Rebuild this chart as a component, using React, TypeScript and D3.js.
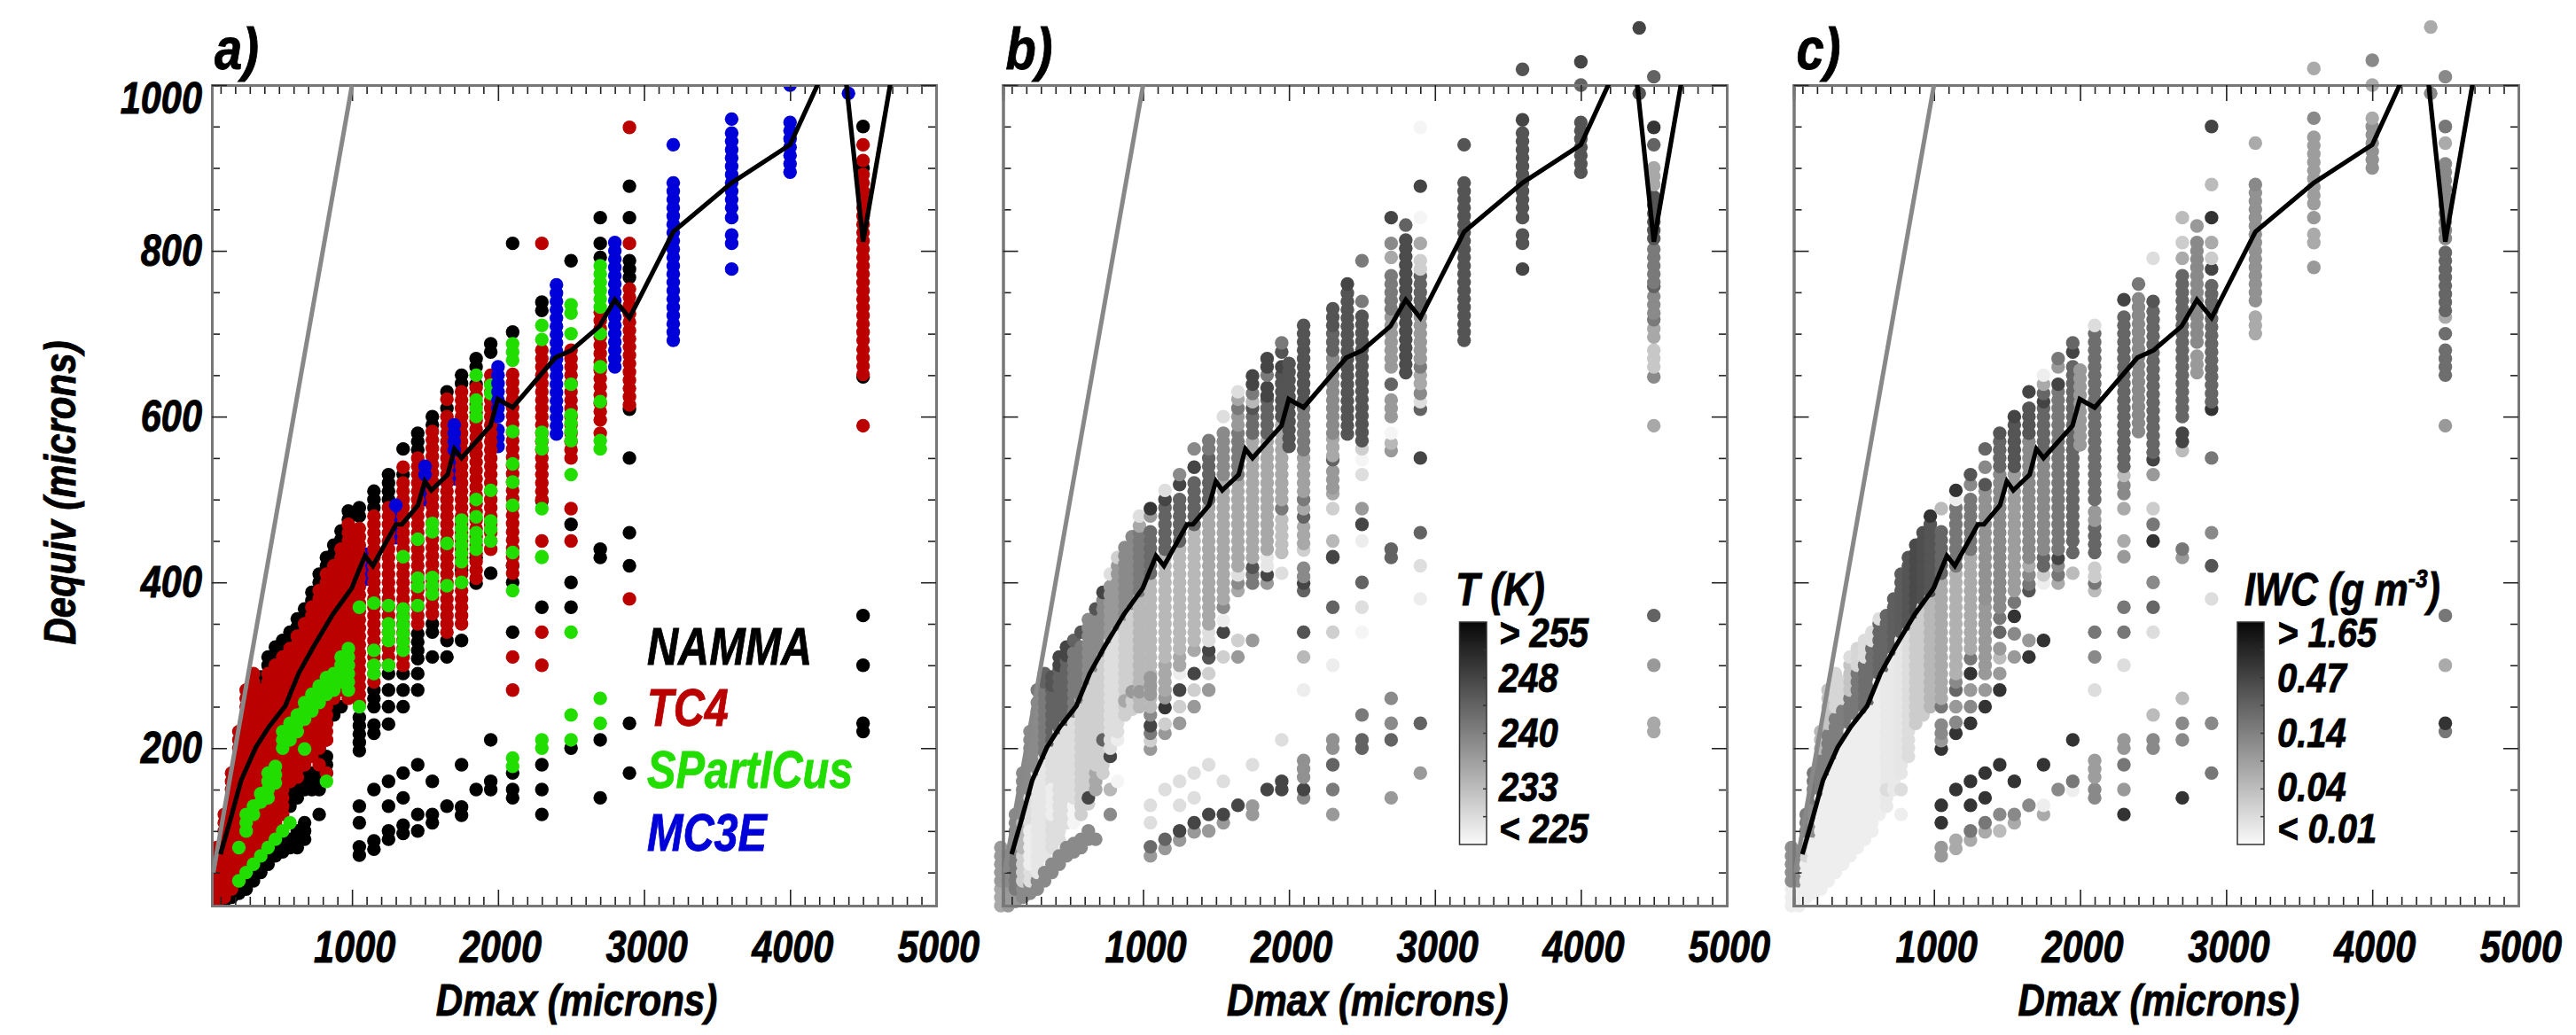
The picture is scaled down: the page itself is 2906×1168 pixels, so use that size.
import React, { useEffect, useRef } from 'react'
import * as d3 from 'd3'

type Row = number[]

// [Dmax, lowest Dequiv, highest Dequiv] of one run of 10 micron bins
const nammaRows: Row[] = [
  [125,15,20],[175,20,25],[225,25,30],[275,30,40],[325,40,50],[375,50,60],[425,60,70],[475,70,80],[525,75,85],[575,80,90],
  [625,80,100],[675,90,110],[575,130,150],[625,140,150],[675,150,170],[725,150,170],[775,120,120],[775,150,170],[775,190,230],
  [825,170,190],[825,230,230],[875,240,250],[925,250,250],
  [375,276,286],[425,300,310],[475,312,322],[525,320,330],[575,330,340],[625,346,356],[675,358,368],[725,378,388],[775,400,410],
  [825,420,430],[875,435,445],[925,452,462],[975,476,486],
  [1050,197,240],[1050,480,490],[1150,218,229],[1150,250,270],[1150,490,510],[1250,229,229],[1250,250,250],[1250,270,270],[1250,290,290],[1250,500,530],
  [1350,250,250],[1350,270,270],[1350,290,290],[1350,530,530],[1350,561,561],[1450,270,270],[1450,290,290],[1450,308,343],[1450,560,580],
  [1550,310,310],[1550,340,358],[1550,590,600],[1650,310,310],[1650,330,330],[1650,610,610],[1650,630,630],[1750,330,330],[1750,415,420],[1750,640,650],
  [1850,430,430],[1850,399,399],[1850,639,639],[1850,660,670],[1950,411,411],[1950,678,689],
  [1050,130,130],[1050,110,110],[1050,71,81],[1150,150,150],[1150,78,90],[1250,160,160],[1250,130,130],[1250,90,105],[1350,170,170],[1350,140,140],[1350,97,110],
  [1450,180,180],[1450,120,120],[1450,100,100],[1550,160,160],[1550,110,120],[1650,130,130],[1750,180,180],[1750,119,130],[1850,150,150],[1950,210,210],[1950,150,160],
  [2100,702,709],[2100,809,809],[2100,420,420],[2100,400,400],[2100,340,340],[2100,170,170],[2100,140,150],
  [2300,728,739],[2300,498,498],[2300,370,370],[2300,180,180],[2300,150,150],[2300,120,120],
  [2500,788,788],[2500,470,470],[2500,400,400],[2500,370,370],[2500,200,200],
  [2700,840,840],[2700,809,809],[2700,792,792],[2700,430,446],[2700,210,210],[2700,140,140],
  [2900,878,878],[2900,840,840],[2900,768,790],[2900,609,609],[2900,550,550],[2900,460,460],[2900,420,420],[2900,230,230],[2900,170,170],
  [4500,950,950],[4500,900,900],[4500,648,648],[4500,360,360],[4500,300,300],[4500,220,230],
]

const tc4Rows: Row[] = [
  [25,10,40],[75,10,80],[125,20,125],[175,30,175],[225,40,225],[275,60,270],[325,70,293],[375,80,270],[425,90,295],[475,100,305],
  [525,120,315],[575,160,325],[625,165,340],[675,180,350],[725,190,370],[775,200,390],[825,210,410],[875,260,425],[925,270,445],[975,260,470],
  [1050,255,470],[1150,280,480],[1250,300,490],[1350,300,528],[1350,539,539],[1450,350,553],[1550,362,585],[1650,340,600],[1650,621,621],
  [1750,350,635],[1850,405,640],[1950,440,653],[2100,411,653],[2300,500,682],[2300,809,809],[2300,450,450],[2300,340,340],[2300,300,300],
  [2500,550,689],[2500,489,489],[2500,450,450],[2700,596,735],[2700,580,580],[2900,614,760],[2900,809,809],[2900,949,949],[2900,380,380],
  [2100,310,310],[2100,270,270],[4500,692,897],[4500,651,684],[4500,909,909],[4500,928,928],[4500,589,589],
  [775,180,180],[825,170,170],[825,210,210],
]

const spartRows: Row[] = [
  [225,40,40],[275,50,50],[325,60,60],[375,70,70],[425,80,80],[475,90,90],[525,100,100],[575,110,110],
  [225,80,80],[275,100,120],[325,120,135],[375,135,150],[425,140,175],[475,158,186],[675,199,199],[825,160,160],
  [525,200,220],[575,210,230],[625,220,240],[675,235,255],[725,245,265],[775,255,280],[825,265,290],[875,270,295],[925,280,310],[975,270,320],
  [1050,250,250],[1050,370,370],[1150,290,300],[1150,318,318],[1150,375,375],[1250,300,300],[1250,330,350],[1250,372,372],[1350,318,370],[1350,431,431],
  [1450,372,372],[1450,452,452],[1450,395,410],[1550,386,411],[1550,461,471],[1650,396,396],[1650,447,447],[1750,400,400],[1750,425,482],
  [1850,650,650],[1850,600,625],[1850,500,500],[1850,440,464],[1850,479,479],[1950,628,646],[1950,511,511],[1950,464,482],[1950,450,450],
  [2100,668,689],[2100,582,582],[2100,543,543],[2100,521,521],[2100,493,493],[2100,436,443],[2100,390,390],[2100,178,190],
  [2300,710,710],[2300,693,693],[2300,561,589],[2300,489,489],[2300,431,431],[2300,430,430],[2300,200,210],
  [2500,725,741],[2500,700,700],[2500,639,639],[2500,582,607],[2500,571,571],[2500,530,530],[2500,340,340],[2500,240,240],[2500,210,210],
  [2700,732,785],[2700,700,700],[2700,660,660],[2700,618,618],[2700,561,571],[2700,260,260],[2700,230,230],
]

// the lower MC3E bins sit behind the TC4 columns, the upper ones in front
const mc3eBehindRows: Row[] = [
  [1100,404,443],[1300,454,493],[1500,500,528],[1700,525,555],[2000,564,590],
]

const mc3eRows: Row[] = [
  [1300,493,493],[1500,530,547],[1700,560,593],[2000,600,664],[2400,579,760],[2800,660,815],
  [3200,928,928],[3200,692,885],[3600,1020,1020],[3600,959,959],[3600,852,942],[3600,840,840],[3600,809,819],[3600,778,778],
  [4000,1000,1000],[4000,895,958],[4400,990,990],
]

// [Dmax, lowest Dequiv, highest Dequiv, temperature in K]
const tempRows: Row[] = [
  [25,10,30,235],[25,40,80,237],[75,10,30,237],[75,40,75,239],[125,15,25,237],[125,30,70,241],[125,80,125,239],
  [175,20,30,239],[175,40,70,230],[175,80,115,233],[175,120,175,239],
  [225,25,35,239],[225,40,140,228],[225,60,100,226],[225,150,225,239],
  [275,30,40,239],[275,50,170,227],[275,175,260,239],[275,270,270,241],
  [325,40,50,239],[325,70,190,227],[325,195,270,241],[325,280,293,244],
  [375,50,60,239],[375,80,205,228],[375,120,150,226],[375,210,270,244],[375,276,286,246],
  [425,60,70,239],[425,90,220,228],[425,225,295,244],[425,300,310,248],
  [475,70,80,239],[475,110,230,228],[475,235,305,244],[475,312,322,248],
  [525,75,85,239],[525,110,130,225],[525,140,240,228],[525,245,320,241],[525,330,330,244],
  [575,80,90,239],[575,120,260,230],[575,262,330,241],[575,340,340,246],
  [625,90,100,239],[625,133,280,230],[625,140,140,248],[625,285,356,239],
  [675,90,90,239],[675,150,170,235],[675,180,295,230],[675,300,360,239],[675,368,368,246],
  [725,170,310,230],[725,210,218,244],[725,318,380,239],[725,388,388,248],
  [775,120,120,239],[775,150,150,233],[775,190,190,248],[775,200,330,228],[775,335,400,237],[775,410,410,228],
  [825,160,160,225],[825,210,210,226],[825,220,345,228],[825,350,420,237],[825,430,430,230],
  [875,240,355,230],[875,257,257,235],[875,362,445,239],
  [925,247,370,230],[925,268,268,237],[925,375,462,239],
  [975,250,385,233],[975,268,268,237],[975,390,460,241],[975,468,468,235],[975,480,480,228],
  [1050,70,70,237],[1050,81,81,243],[1050,110,110,228],[1050,131,131,228],[1050,199,199,237],[1050,209,209,230],[1050,218,218,241],[1050,227,227,248],[1050,240,240,239],
  [1050,250,400,233],[1050,265,290,237],[1050,411,470,243],[1050,480,480,237],[1050,489,489,250],
  [1150,79,79,237],[1150,90,90,244],[1150,150,150,228],[1150,218,218,237],[1150,229,229,230],[1150,249,249,250],[1150,261,261,237],[1150,270,300,235],[1150,310,430,233],[1150,440,490,244],[1150,500,500,248],[1150,511,511,228],
  [1250,89,89,237],[1250,100,100,248],[1250,131,131,228],[1250,160,160,228],[1250,230,230,237],[1250,250,250,230],[1250,270,270,248],[1250,290,290,226],[1250,300,310,235],[1250,320,440,233],[1250,450,508,244],[1250,518,518,248],[1250,530,530,239],
  [1350,99,99,237],[1350,110,110,248],[1350,140,140,228],[1350,170,170,228],[1350,250,250,237],[1350,270,270,230],[1350,290,290,248],[1350,318,318,235],[1350,330,460,233],[1350,470,528,244],[1350,539,539,248],[1350,561,561,239],
  [1450,100,100,237],[1450,120,120,248],[1450,180,180,228],[1450,270,270,237],[1450,290,290,230],[1450,309,309,246],[1450,318,318,248],[1450,330,340,228],[1450,350,490,235],[1450,500,553,244],[1450,561,580,241],
  [1550,110,110,237],[1550,120,120,248],[1550,160,160,228],[1550,310,310,230],[1550,340,340,248],[1550,354,354,226],[1550,370,370,239],[1550,380,520,235],[1550,530,589,239],[1550,600,600,228],
  [1650,131,131,248],[1650,310,310,237],[1650,330,330,230],[1650,390,390,235],[1650,399,399,239],[1650,409,409,228],[1650,420,525,235],[1650,530,580,241],[1650,590,600,237],[1650,610,610,241],[1650,621,621,235],[1650,630,630,228],
  [1750,120,131,237],[1750,180,180,228],[1750,330,330,237],[1750,399,409,241],[1750,418,418,246],[1750,430,570,235],[1750,580,600,243],[1750,610,610,246],[1750,618,618,233],[1750,628,628,241],[1750,639,650,248],
  [1850,150,150,248],[1850,399,399,237],[1850,409,409,248],[1850,420,430,227],[1850,440,570,235],[1850,580,620,244],[1850,625,640,248],[1850,650,650,241],[1850,660,670,248],
  [1950,150,161,248],[1950,210,210,228],[1950,411,411,228],[1950,436,480,232],[1950,489,489,241],[1950,500,590,235],[1950,600,650,246],[1950,660,668,248],[1950,678,678,246],[1950,689,689,241],
  [2000,564,664,246],
  [2100,140,140,239],[2100,150,150,248],[2100,165,190,238],[2100,270,270,226],[2100,310,310,233],[2100,340,340,246],[2100,390,390,244],[2100,399,399,248],[2100,407,421,239],[2100,439,439,230],[2100,447,471,235],[2100,479,479,244],[2100,489,489,235],[2100,500,500,241],[2100,510,553,236],[2100,560,610,241],[2100,620,716,246],
  [2300,120,120,237],[2300,150,150,241],[2300,180,180,244],[2300,200,210,238],[2300,300,300,226],[2300,340,340,230],[2300,370,370,244],[2300,430,430,246],[2300,450,450,233],[2300,431,431,248],[2300,489,497,230],[2300,507,507,235],[2300,514,539,237],[2300,548,548,244],[2300,553,575,235],[2300,580,671,239],[2300,680,700,244],[2300,710,739,246],
  [2400,579,750,246],[2400,760,760,248],
  [2500,200,210,244],[2500,240,240,241],[2500,340,340,225],[2500,370,370,228],[2500,400,400,244],[2500,450,450,226],[2500,470,470,248],[2500,489,489,237],[2500,530,530,228],[2500,548,548,225],[2500,561,561,230],[2500,571,728,246],[2500,739,739,241],[2500,788,788,241],
  [2700,140,140,237],[2700,210,210,244],[2700,230,230,239],[2700,260,260,239],[2700,430,446,244],[2700,559,559,237],[2700,568,568,233],[2700,580,580,225],[2700,600,628,237],[2700,639,639,244],[2700,660,721,237],[2700,730,778,241],[2700,792,792,235],[2700,809,809,239],[2700,840,840,248],
  [2800,653,815,247],[2800,831,831,244],
  [2900,170,170,237],[2900,230,230,244],[2900,380,380,226],[2900,420,420,228],[2900,460,460,244],[2900,550,550,248],[2900,609,609,244],[2900,618,618,228],[2900,628,628,239],[2900,640,650,235],[2900,660,660,241],[2900,670,721,237],[2900,730,771,244],[2900,778,792,230],[2900,809,809,235],[2900,840,840,225],[2900,878,878,248],[2900,949,949,225],
  [3200,692,885,246],[3200,928,928,246],
  [3600,778,778,248],[3600,809,819,246],[3600,840,840,246],[3600,852,942,246],[3600,958,958,248],[3600,1019,1019,246],
  [4000,895,960,246],[4000,1000,1000,244],[4000,1028,1028,248],
  [4400,990,990,246],[4400,1069,1069,248],
  [4500,220,230,235],[4500,300,300,237],[4500,360,360,244],[4500,589,589,235],[4500,648,648,239],[4500,660,680,231],[4500,696,708,235],[4500,717,717,241],[4500,725,750,239],[4500,757,757,244],[4500,762,807,241],[4500,815,872,246],[4500,880,909,235],[4500,928,928,244],[4500,949,949,250],[4500,1010,1010,244],
]

// [Dmax, lowest Dequiv, highest Dequiv, ice water content in g m-3]
const iwcRows: Row[] = [
  [25,10,30,0.0117],[25,40,80,0.1],[75,10,30,0.0117],[75,40,75,0.1],[125,20,60,0.0117],[125,70,90,0.02],[125,100,125,0.14],
  [175,25,90,0.0117],[175,100,130,0.1],[175,140,175,0.16],[225,30,140,0.0117],[225,150,190,0.14],[225,200,225,0.04],
  [275,40,165,0.0117],[275,175,220,0.14],[275,230,270,0.03],[325,50,185,0.0117],[325,195,240,0.14],[325,250,293,0.02],
  [375,60,205,0.0117],[375,215,250,0.14],[375,260,286,0.02],[425,70,220,0.0117],[425,230,260,0.16],[425,270,300,0.03],[425,310,310,0.017],
  [475,80,230,0.0117],[475,240,290,0.16],[475,300,322,0.02],[525,90,240,0.0117],[525,250,300,0.2],[525,310,330,0.017],
  [575,100,255,0.0117],[575,260,320,0.2],[575,330,340,0.017],[625,120,280,0.0117],[625,290,350,0.24],[625,356,356,0.017],
  [675,130,295,0.013],[675,150,150,0.017],[675,300,368,0.24],[725,150,310,0.013],[725,320,388,0.28],
  [775,120,120,0.0117],[775,150,150,0.017],[775,170,330,0.014],[775,340,410,0.3],[825,190,345,0.017],[825,350,430,0.35],
  [875,230,355,0.025],[875,365,445,0.45],[925,240,370,0.025],[925,380,462,0.4],[975,250,385,0.04],[975,390,470,0.35],[975,480,480,0.74],
  [1050,70,81,0.077],[1050,110,110,0.74],[1050,131,131,0.74],[1050,199,199,0.74],[1050,209,209,0.077],[1050,218,230,0.11],[1050,250,250,0.165],[1050,260,400,0.053],[1050,411,470,0.24],[1050,489,489,0.036],
  [1150,79,90,0.053],[1150,150,150,0.74],[1150,218,218,0.74],[1150,231,231,0.11],[1150,250,250,0.077],[1150,270,270,0.24],[1150,280,280,0.11],[1150,290,410,0.045],[1150,420,490,0.165],[1150,500,500,0.0117],[1150,511,511,0.74],
  [1250,89,89,0.053],[1250,100,100,0.165],[1250,131,131,0.74],[1250,160,160,0.74],[1250,230,230,0.74],[1250,250,250,0.11],[1250,270,270,0.077],[1250,290,290,0.74],[1250,308,308,0.165],[1250,320,430,0.053],[1250,440,508,0.165],[1250,518,518,0.11],[1250,530,530,0.35],
  [1350,99,99,0.053],[1350,110,110,0.165],[1350,140,140,0.74],[1350,170,170,0.74],[1350,250,250,0.74],[1350,270,270,0.077],[1350,290,290,0.077],[1350,300,370,0.077],[1350,380,510,0.09],[1350,518,518,0.35],[1350,539,539,0.11],[1350,561,561,0.24],
  [1450,100,100,0.036],[1450,120,120,0.11],[1450,180,180,0.74],[1450,270,270,0.74],[1450,290,290,0.077],[1450,309,309,0.036],[1450,320,320,0.077],[1450,340,340,0.24],[1450,357,357,0.165],[1450,370,530,0.11],[1450,540,570,0.24],[1450,580,580,0.35],
  [1550,110,110,0.053],[1550,120,120,0.11],[1550,160,160,0.74],[1550,310,310,0.077],[1550,338,338,0.11],[1550,359,359,0.74],[1550,376,376,0.165],[1550,390,530,0.07],[1550,540,590,0.35],[1550,600,600,0.51],
  [1650,131,131,0.11],[1650,310,310,0.74],[1650,330,330,0.077],[1650,390,390,0.35],[1650,398,398,0.165],[1650,409,409,0.11],[1650,420,420,0.053],[1650,430,570,0.11],[1650,580,612,0.35],[1650,630,630,0.51],
  [1750,120,120,0.053],[1750,131,131,0.0117],[1750,180,180,0.74],[1750,330,330,0.74],[1750,399,399,0.0117],[1750,409,409,0.025],[1750,420,430,0.24],[1750,440,550,0.11],[1750,560,610,0.24],[1750,618,618,0.51],[1750,628,628,0.24],[1750,639,639,0.053],[1750,650,650,0.0117],
  [1850,150,150,0.11],[1850,399,399,0.053],[1850,409,409,0.165],[1850,420,420,0.11],[1850,429,429,0.51],[1850,440,630,0.165],[1850,639,646,0.51],[1850,660,660,0.077],[1850,670,670,0.165],
  [1950,149,149,0.0117],[1950,160,160,0.165],[1950,210,210,0.74],[1950,411,411,0.036],[1950,436,436,0.24],[1950,450,667,0.24],[1950,678,678,0.51],[1950,689,689,0.24],
  [2000,566,660,0.077],
  [2100,140,150,0.11],[2100,165,190,0.07],[2100,270,270,0.017],[2100,310,310,0.11],[2100,340,340,0.165],[2100,390,390,0.036],[2100,399,399,0.165],[2100,407,420,0.025],[2100,436,471,0.24],[2100,475,490,0.077],[2100,500,700,0.2],[2100,710,710,0.017],
  [2300,120,120,0.74],[2300,150,150,0.077],[2300,180,180,0.165],[2300,200,210,0.08],[2300,300,300,0.017],[2300,340,340,0.165],[2300,370,370,0.165],[2300,431,431,0.077],[2300,450,450,0.053],[2300,489,497,0.053],[2300,507,518,0.11],[2300,529,529,0.036],[2300,540,728,0.24],[2300,741,741,0.51],
  [2400,582,750,0.11],[2400,760,760,0.165],
  [2500,200,210,0.11],[2500,240,240,0.036],[2500,340,340,0.017],[2500,370,370,0.24],[2500,400,400,0.11],[2500,450,450,0.74],[2500,470,470,0.165],[2500,489,489,0.025],[2500,530,530,0.077],[2500,548,548,0.51],[2500,557,728,0.24],[2500,739,739,0.35],[2500,791,791,0.017],
  [2700,140,140,0.74],[2700,210,210,0.11],[2700,230,230,0.11],[2700,260,260,0.036],[2700,430,430,0.077],[2700,440,440,0.165],[2700,559,559,0.036],[2700,570,580,0.51],[2700,600,778,0.24],[2700,791,791,0.053],[2700,810,810,0.025],[2700,840,840,0.036],
  [2800,653,680,0.077],[2800,690,810,0.11],[2800,830,830,0.077],
  [2900,170,170,0.165],[2900,230,230,0.11],[2900,380,380,0.017],[2900,420,420,0.35],[2900,460,460,0.11],[2900,550,550,0.165],[2900,609,609,0.74],[2900,618,767,0.24],[2900,778,778,0.51],[2900,791,791,0.025],[2900,810,810,0.053],[2900,840,840,0.74],[2900,880,880,0.036],[2900,950,950,0.51],
  [3200,700,728,0.053],[3200,740,870,0.09],[3200,880,880,0.11],[3200,930,930,0.053],
  [3600,780,780,0.077],[3600,810,820,0.053],[3600,840,840,0.077],[3600,857,942,0.07],[3600,960,960,0.11],[3600,1020,1020,0.053],
  [4000,900,950,0.09],[4000,960,960,0.053],[4000,1000,1000,0.053],[4000,1030,1030,0.11],
  [4400,990,990,0.11],[4400,1070,1070,0.053],
  [4500,220,220,0.165],[4500,230,230,0.74],[4500,300,300,0.053],[4500,360,360,0.165],[4500,589,589,0.077],[4500,650,680,0.2],[4500,700,708,0.2],[4500,720,720,0.053],[4500,728,807,0.24],[4500,815,910,0.11],[4500,930,930,0.053],[4500,950,950,0.165],[4500,1010,1010,0.11],
]

const binnedDmax = [99,169,240,341,432,543,634,735,867,998,1048,1089,1143,1301,1342,1452,1499,1543,1655,1701,1750,1948,1998,2100,2392,2503,2695,2800,2900,3200,3600,4000,4349,4500,4700]
const binnedDequiv = [72,115,161,201,226,251,290,322,361,393,415,432,420,470,470,493,522,511,530,561,550,589,621,611,671,680,709,741,719,823,882,928,1062,811,1015]
const oneToOne = [50,1000]

const campaigns = ['NAMMA','TC4','SPartICus','MC3E']
const campaignColors = ['#000000','#bb0000','#22dd00','#0000d8']
const dmaxLabels = [1000,2000,3000,4000,5000]
const dequivLabels = [200,400,600,800,1000]
const tempLabels = ['< 225','233','240','248','> 255']
const iwcLabels = ['< 0.01','0.04','0.14','0.47','> 1.65']

const FONT = '"Liberation Sans", Arial, sans-serif'
const TOP = 96
const BOTTOM = 1022
const DOT = 7.7

const grayFromT = d3.scaleLinear().domain([225,255]).range([245,15]).clamp(true)
const grayFromIwc = d3.scaleLog().domain([0.01,1.65]).range([245,15]).clamp(true)
const gray = (g: number) => d3.rgb(g,g,g).formatHex()

const expand = (rows: Row[]) =>
  rows.flatMap(r => d3.range(r[1], r[2] + 1, 10).map(v => ({dmax: r[0], dequiv: v, value: r[3]})))

function Label({x, y, size = 50, sx = 0.83, anchor = 'middle', rotate = 0, fill = '#000', children}: any) {
  return (
    <text
      transform={`translate(${x},${y}) rotate(${rotate}) scale(${sx},1)`}
      fontFamily={FONT}
      fontWeight="bold"
      fontStyle="italic"
      fontSize={size}
      textAnchor={anchor}
      fill={fill}
      stroke={fill}
      strokeWidth={0.9}
    >
      {children}
    </text>
  )
}

function Panel({id, left, right, letter, clip, children, layers}: any) {
  const axesRef = useRef<SVGGElement>(null)
  const x = d3.scaleLinear().domain([40,5000]).range([left,right])
  const y = d3.scaleLinear().domain([10,1000]).range([BOTTOM,TOP])
  const lineGen = d3.line<number>().x(d => x(d)).y((d, i) => y(binnedDequiv[i]))

  useEffect(() => {
    const g = d3.select(axesRef.current)
    g.selectAll('*').remove()
    const tick = (axis: any, length: number, at: string) =>
      g.append('g')
        .attr('transform', at)
        .call(axis.tickSize(length).tickFormat(() => '').tickPadding(0))
        .call((s: any) => s.select('.domain').attr('stroke', '#777').attr('stroke-width', 3))
        .call((s: any) => s.selectAll('.tick line').attr('stroke', '#222').attr('stroke-width', 1.6))
    const minorX = d3.range(100, 5000, 100).filter(d => d % 1000 !== 0)
    const minorY = d3.range(50, 1000, 50).filter(d => d % 200 !== 0)
    tick(d3.axisBottom(x).tickValues(minorX), -10, `translate(0,${BOTTOM})`)
    tick(d3.axisBottom(x).tickValues(dmaxLabels), -18, `translate(0,${BOTTOM})`)
    tick(d3.axisTop(x).tickValues(minorX), -10, `translate(0,${TOP})`)
    tick(d3.axisTop(x).tickValues(dmaxLabels), -18, `translate(0,${TOP})`)
    tick(d3.axisLeft(y).tickValues(minorY), -9, `translate(${left},0)`)
    tick(d3.axisLeft(y).tickValues(dequivLabels), -17, `translate(${left},0)`)
    tick(d3.axisRight(y).tickValues(minorY), -9, `translate(${right},0)`)
    tick(d3.axisRight(y).tickValues(dequivLabels), -17, `translate(${right},0)`)
  }, [left, right])

  return (
    <g>
      <clipPath id={id}>
        <rect x={left} y={TOP} width={right - left} height={BOTTOM - TOP} />
      </clipPath>
      <g clipPath={clip ? `url(#${id})` : undefined}>
        {layers.map((layer: any, i: number) =>
          expand(layer.rows).map((d, j) => (
            <circle key={`${i}-${j}`} cx={x(d.dmax)} cy={y(d.dequiv)} r={DOT} fill={layer.color(d.value)} />
          ))
        )}
      </g>
      <g ref={axesRef} />
      <g clipPath={`url(#${id})`} fill="none">
        <line x1={x(oneToOne[0])} y1={y(oneToOne[0])} x2={x(oneToOne[1])} y2={y(oneToOne[1])} stroke="#888" strokeWidth={5} />
        <path d={lineGen(binnedDmax) || ''} stroke="#000" strokeWidth={5.2} strokeLinejoin="miter" />
      </g>
      {dmaxLabels.map(d => (
        <Label key={d} x={x(d) + 3} y={1086}>{d}</Label>
      ))}
      <Label x={(left + right) / 2 + 3} y={1146} sx={0.84}>Dmax (microns)</Label>
      <Label x={left + 3} y={78} size={66} sx={0.85} anchor="start">{letter}</Label>
      {children && children(x, y)}
    </g>
  )
}

function ColorBar({id, left, width, labelX, labels, title}: any) {
  const barY = d3.scaleLinear().domain([0,4]).range([953,702])
  const offsets = [-2,14,15,16,28]
  const stops = d3.range(0, 1.01, 0.1)
  const minor = d3.range(0.5, 4, 0.5)
  return (
    <g>
      <linearGradient id={id} x1="0" y1="1" x2="0" y2="0">
        {stops.map(s => (
          <stop key={s} offset={s} stopColor={gray(250 - s * 242)} />
        ))}
      </linearGradient>
      <rect x={left} y={702} width={width} height={251} fill={`url(#${id})`} stroke="#333" strokeWidth={1.5} />
      {minor.map(m => (
        <line key={m} x1={left + width - 4} x2={left + width} y1={barY(m)} y2={barY(m)} stroke="#333" strokeWidth={1.5} />
      ))}
      {labels.map((t: string, i: number) => (
        <Label key={t} x={labelX} y={barY(i) + offsets[i]} size={47} sx={0.85} anchor="start">{t}</Label>
      ))}
      {title}
    </g>
  )
}

export default function App() {
  const campaignLayers = [nammaRows, mc3eBehindRows, tc4Rows, spartRows, mc3eRows].map((rows, i) => ({
    rows,
    color: () => campaignColors[[0,3,1,2,3][i]],
  }))
  const legendBaselines = [750,819,889,960]
  return (
    <svg width={2906} height={1168} style={{position: 'absolute', left: 0, top: 0, background: '#fff'}}>
      <Panel id="panel-a" left={239} right={1056} letter="a)" clip layers={campaignLayers}>
        {(x: any, y: any) => (
          <g>
            {dequivLabels.map(d => (
              <Label key={d} x={228} y={y(d) + (d === 1000 ? 32 : 17)} anchor="end">{d}</Label>
            ))}
            <Label x={85} y={556} rotate={-90} sx={0.84}>Dequiv (microns)</Label>
            {campaigns.map((c, i) => (
              <Label key={c} x={730} y={legendBaselines[i]} size={60} sx={0.81} anchor="start" fill={campaignColors[i]}>{c}</Label>
            ))}
          </g>
        )}
      </Panel>
      <Panel id="panel-b" left={1131.5} right={1948} letter="b)" layers={[{rows: tempRows, color: (v: number) => gray(grayFromT(v))}]}>
        {() => (
          <ColorBar id="bar-t" left={1646.5} width={30.5} labelX={1691} labels={tempLabels}
            title={<Label x={1642} y={683} size={52} sx={0.85} anchor="start">T (K)</Label>} />
        )}
      </Panel>
      <Panel id="panel-c" left={2023.5} right={2841} letter="c)" layers={[{rows: iwcRows, color: (v: number) => gray(grayFromIwc(v))}]}>
        {() => (
          <ColorBar id="bar-iwc" left={2524} width={30} labelX={2569} labels={iwcLabels}
            title={
              <Label x={2532} y={683} size={52} sx={0.82} anchor="start">
                IWC (g m<tspan fontSize={30} dy={-20}>-3</tspan><tspan dy={20}>)</tspan>
              </Label>
            } />
        )}
      </Panel>
    </svg>
  )
}
